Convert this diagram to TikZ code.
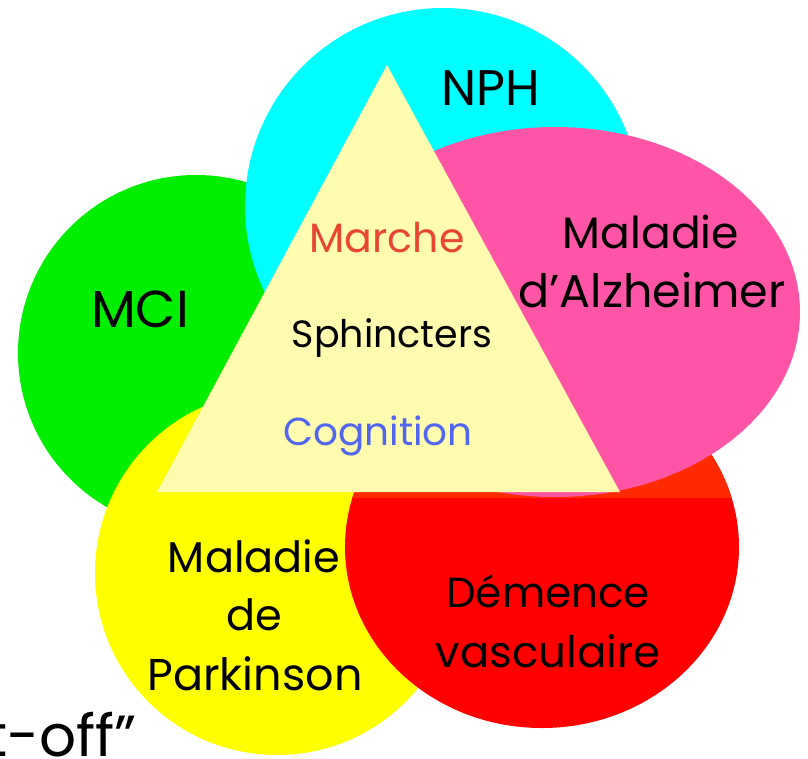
\documentclass[tikz,border=0pt]{standalone}
\usepackage{fontspec}
\setmainfont{Poppins}
\definecolor{cgreen}{RGB}{0,238,0}
\definecolor{ccyan}{RGB}{0,255,255}
\definecolor{cyellow}{RGB}{255,255,0}
\definecolor{cred}{RGB}{255,0,0}
\definecolor{credtop}{RGB}{255,42,0}
\definecolor{cpink}{RGB}{255,85,166}
\definecolor{ctri}{RGB}{255,252,175}
\definecolor{cmarche}{RGB}{232,70,50}
\definecolor{ccog}{RGB}{80,102,238}
\tikzset{
  lbl/.style={anchor=base, inner sep=0pt, text=black},
  fs/.style={font=\fontsize{#1}{#1}\selectfont}
}
\begin{document}
\begin{tikzpicture}[x=1pt,y=-1pt]
\useasboundingbox (0,0) rectangle (808,758);
\fill[white] (0,0) rectangle (808,758);
% circles
\fill[cgreen] (196,353) ellipse[x radius=178pt, y radius=178pt];
\fill[ccyan] (443,206) ellipse[x radius=198pt, y radius=198pt];
\fill[cyellow] (277,573) ellipse[x radius=182pt, y radius=182pt];
\fill[cred] (542,547) ellipse[x radius=197pt, y radius=181pt];
\begin{scope}
  \clip (0,0) rectangle (808,497);
  \fill[credtop] (542,547) ellipse[x radius=197pt, y radius=181pt];
\end{scope}
\fill[cpink] (555,312) ellipse[x radius=245pt, y radius=185pt];
% triangle
\coordinate (apex) at (387,65);
\coordinate (bl) at (157,492);
\coordinate (br) at (620,492);
\fill[ctri] (apex) -- (bl) -- (br) -- cycle;
% labels
\node[lbl, fs=50] (nph) at (491,105) {NPH};
\node[lbl, fs=52] (mci) at (140,327) {MCI};
\node[lbl, fs=41, text=cmarche] (marche) at (387,252) {Marche};
\node[lbl, fs=38] (sph) at (392,347) {Sphincters};
\node[lbl, fs=39, text=ccog] (cog) at (378,445) {Cognition};
\node[lbl, fs=44] (alz1) at (651,248) {Maladie};
\node[lbl, fs=46] (alz2) at (652,307) {d’Alzheimer};
\node[lbl, fs=43] (par1) at (254,572) {Maladie};
\node[lbl, fs=43] (par2) at (254,630) {de};
\node[lbl, fs=44.5] (par3) at (255,690) {Parkinson};
\node[lbl, fs=42] (dem1) at (548,607) {Démence};
\node[lbl, fs=43.5] (dem2) at (548,667) {vasculaire};
\node[lbl, fs=58, anchor=base east] (cut) at (137,756) {t-off”};
\end{tikzpicture}
\end{document}
